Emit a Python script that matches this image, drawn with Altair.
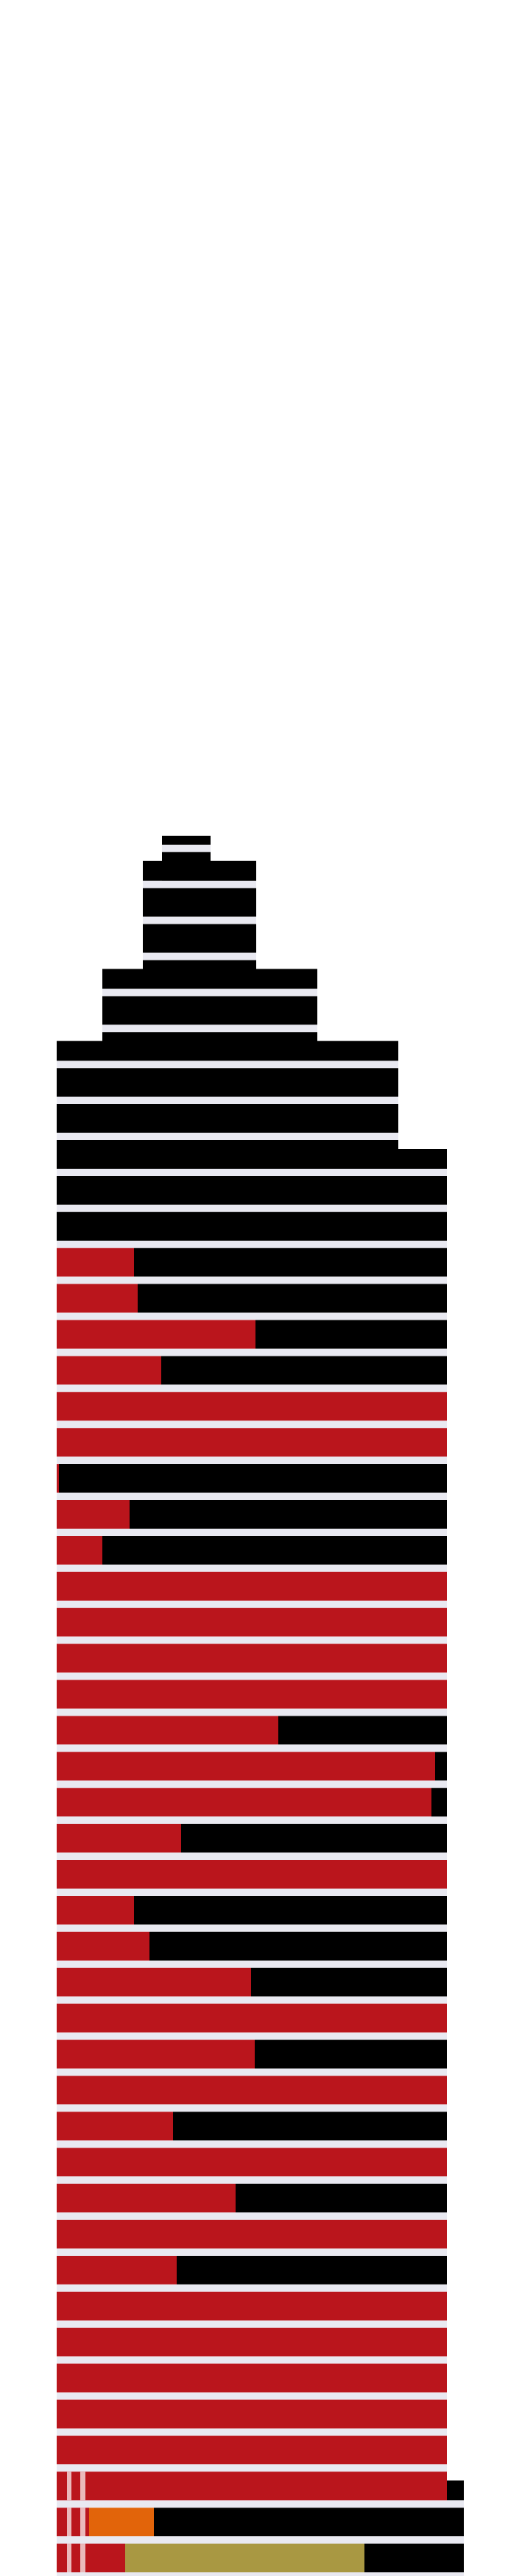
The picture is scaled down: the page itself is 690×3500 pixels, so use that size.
import altair as alt
import pandas as pd

# ---- values (rows listed from the top / antenna down to street level) ----
row_names = ["A", "B", "C", "D", "E", "F", "G", "H", "I", "J", "K", "L",
             "M", "N", "O", "P", "Q", "R", "S", "T", "U", "V", "W", "X", "Y", "Z",
             "AA", "AB", "AC", "AD", "AE", "AF", "AG", "AH", "AI", "AJ", "AK", "AL",
             "AM", "AN", "AO", "AP", "AQ", "AR", "AS", "AT", "AU", "AV", "AW"]

row_left = [220, 194, 194, 194, 139, 139, 77, 77, 77] + [77] * 40
row_right = [286, 348, 348, 348, 431, 431, 541, 541, 541] + [607] * 37 + [630, 630, 630]

# where the red part of each row ends (equal to the left edge when there is no red)
red_end = ([220, 194, 194, 194, 139, 139, 77, 77, 77, 77, 77, 77] +
           [182, 187, 347, 219, 607, 607, 80, 176, 139, 607, 607, 607, 607, 378,
            591, 586, 246, 607, 182, 203, 341, 607, 346, 607, 235, 607,
            320, 607, 240, 607, 607, 607, 607, 607, 607, 121, 170])

# extra coloured blocks on the two lowest rows
accent_row = ["AV", "AW"]
accent_end = [209, 495]
accent_color = ["#E2640A", "#A99842"]

# light streaks across the lowest three rows
streak_rows = ["AU", "AV", "AW"]
streak_from = [91, 109]
streak_to = [97, 116]

RED = "#BA151C"
BLACK = "#000000"
GAP = "#E9E9F1"

n = len(row_names)
GAP_FR = 10 / 48.9      # share of a floor taken by the light gap line
INSET_FR = 12 / 48.9    # set-back at the top of a floor that is wider than the one above
ANT_FR = 12 / 48.9      # visible height of the antenna block

rects = []
for i, name in enumerate(row_names):
    f = n - 1 - i                       # floor number counted from the street
    left, right = row_left[i], row_right[i]
    segs = []
    if red_end[i] > left:
        segs.append((left, red_end[i], RED))
    start = max(left, red_end[i])
    if name in accent_row:
        k = accent_row.index(name)
        segs.append((start, accent_end[k], accent_color[k]))
        start = accent_end[k]
    if right > start:
        segs.append((start, right, BLACK))

    # light gap line under the floor
    rects.append(dict(x=left, x2=right, y=f, y2=f + GAP_FR, c=GAP, o=1.0))

    if i == 0:
        for a, b, c in segs:
            rects.append(dict(x=a, x2=b, y=f + GAP_FR, y2=f + GAP_FR + ANT_FR, c=c, o=1.0))
        continue

    L, R = row_left[i - 1], row_right[i - 1]
    for a, b, c in segs:
        ia, ib = max(a, L), min(b, R)
        if ib > ia:
            rects.append(dict(x=ia, x2=ib, y=f + GAP_FR, y2=f + 1, c=c, o=1.0))
        if a < L:
            rects.append(dict(x=a, x2=min(b, L), y=f + GAP_FR, y2=f + 1 - INSET_FR, c=c, o=1.0))
        if b > R:
            rects.append(dict(x=max(a, R), x2=b, y=f + GAP_FR, y2=f + 1 - INSET_FR, c=c, o=1.0))

for name in streak_rows:
    f = n - 1 - row_names.index(name)
    for a, b in zip(streak_from, streak_to):
        rects.append(dict(x=a, x2=b, y=f + GAP_FR, y2=f + 1, c="#FFFFFF", o=0.7))

df = pd.DataFrame(rects)

chart = alt.Chart(df).mark_rect().encode(
    x=alt.X("x:Q", scale=alt.Scale(domain=[8, 682], nice=False, zero=False), axis=None),
    x2="x2:Q",
    y=alt.Y("y:Q", scale=alt.Scale(domain=[5 / 48.9, 3497 / 48.9], nice=False, zero=False), axis=None),
    y2="y2:Q",
    color=alt.Color("c:N", scale=None),
    opacity=alt.Opacity("o:Q", scale=None),
).properties(
    width=674, height=3492, padding=0, autosize=alt.AutoSizeParams(type="none"),
    background="#FFFFFF",
).configure_view(stroke=None)

chart.save("out.html", embed_options={"renderer": "svg", "actions": False})
